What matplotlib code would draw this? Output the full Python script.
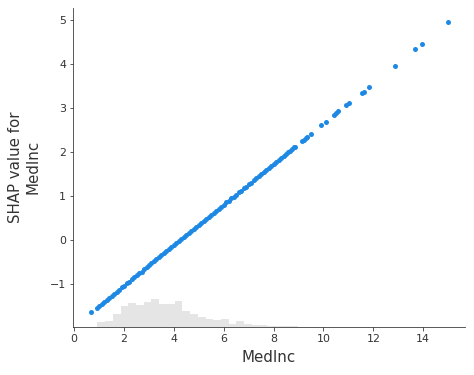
import numpy as np
import matplotlib
matplotlib.use("Agg")
import matplotlib.pyplot as plt

# MedInc feature values and their SHAP values
med_inc = [0.68,
           0.9, 1.0, 1.1, 1.2, 1.3, 1.4, 1.5, 1.6, 1.7, 1.8, 1.9, 2.0, 2.1, 2.2,
           2.3, 2.4, 2.5, 2.6, 2.7, 2.8, 2.9, 3.0, 3.1, 3.2, 3.3, 3.4, 3.5, 3.6,
           3.7, 3.8, 3.9, 4.0, 4.1, 4.2, 4.3, 4.4, 4.5, 4.6, 4.7, 4.8, 4.9, 5.0,
           5.1, 5.2, 5.3, 5.4, 5.5, 5.6, 5.7, 5.8, 5.9, 6.0, 6.1, 6.2, 6.3, 6.4,
           6.5, 6.6, 6.7, 6.8, 6.9, 7.0, 7.1, 7.2, 7.3, 7.4, 7.5, 7.6, 7.7, 7.8,
           7.9, 8.0, 8.1, 8.2, 8.3,
           8.42, 8.5, 8.58, 8.66, 8.74, 8.82, 8.87, 9.13, 9.2, 9.28, 9.35, 9.49,
           9.91, 10.10, 10.43, 10.52, 10.60, 10.92, 11.04, 11.54, 11.62, 11.81,
           12.89, 13.69, 13.97, 15.01]
shap_vals = [-1.64,
             -1.54, -1.50, -1.45, -1.41, -1.36, -1.31, -1.27, -1.22, -1.18, -1.13,
             -1.08, -1.04, -0.99, -0.95, -0.90, -0.85, -0.81, -0.76, -0.72, -0.67,
             -0.62, -0.58, -0.53, -0.49, -0.44, -0.40, -0.35, -0.30, -0.26, -0.21,
             -0.17, -0.12, -0.07, -0.03, 0.02, 0.06, 0.11, 0.16, 0.20, 0.25, 0.29,
             0.34, 0.39, 0.43, 0.48, 0.52, 0.57, 0.62, 0.66, 0.71, 0.75, 0.80,
             0.85, 0.89, 0.94, 0.98, 1.03, 1.08, 1.12, 1.17, 1.21, 1.26, 1.30,
             1.35, 1.40, 1.44, 1.49, 1.53, 1.58, 1.63, 1.67, 1.72, 1.76, 1.81, 1.86,
             1.91, 1.95, 1.99, 2.02, 2.06, 2.10, 2.12, 2.24, 2.27, 2.31, 2.34, 2.40,
             2.60, 2.68, 2.84, 2.88, 2.93, 3.06, 3.12, 3.33, 3.37, 3.47,
             3.96, 4.33, 4.45, 4.94]

# histogram of MedInc in the background (counts per bin, 50 bins)
hist_counts = [0, 0, 1, 16, 19, 41, 66, 75, 69, 78,
               88, 72, 72, 81, 50, 40, 31, 24, 22, 26,
               10, 19, 8, 5, 5, 4, 3, 2, 2, 1,
               1, 1, 1, 1, 1, 1, 1, 0, 0, 0,
               0, 1, 0, 0, 1, 1, 0, 0, 1, 0]
n_samples = 1000

txt = "#333333"
fig = plt.figure(figsize=(474 / 72, 375 / 72), dpi=72)
ax = fig.add_axes([0.154, 0.128, 0.827, 0.851])

# histogram on a twin axis, drawn behind the scatter
ax2 = ax.twinx()
edges = np.linspace(0, 15.5, len(hist_counts) + 1)
ax2.bar(edges[:-1], hist_counts, width=np.diff(edges), align="edge",
        color="#000000", alpha=0.1, linewidth=0)
ax2.set_ylim(0, n_samples)
ax2.set_yticks([])
for s in ax2.spines.values():
    s.set_visible(False)

ax.set_zorder(ax2.get_zorder() + 1)
ax.patch.set_visible(False)

ax.scatter(med_inc, shap_vals, s=25, color="#1E88E5", linewidths=0)

ax.set_xlim(-0.05, 15.68)
ax.set_ylim(-1.98, 5.27)
ax.set_xticks([0, 2, 4, 6, 8, 10, 12, 14])
ax.set_yticks([-1, 0, 1, 2, 3, 4, 5])
ax.set_yticklabels(["\u22121", "0", "1", "2", "3", "4", "5"])
ax.spines["top"].set_visible(False)
ax.spines["right"].set_visible(False)
for s in ["left", "bottom"]:
    ax.spines[s].set_color(txt)
ax.tick_params(labelsize=11, colors=txt, labelcolor=txt)
ax.set_xlabel("MedInc", fontsize=15, color=txt, labelpad=6)
ax.set_ylabel("SHAP value for\nMedInc", fontsize=15, color=txt, labelpad=9)

fig.savefig("out.png", dpi=72)
